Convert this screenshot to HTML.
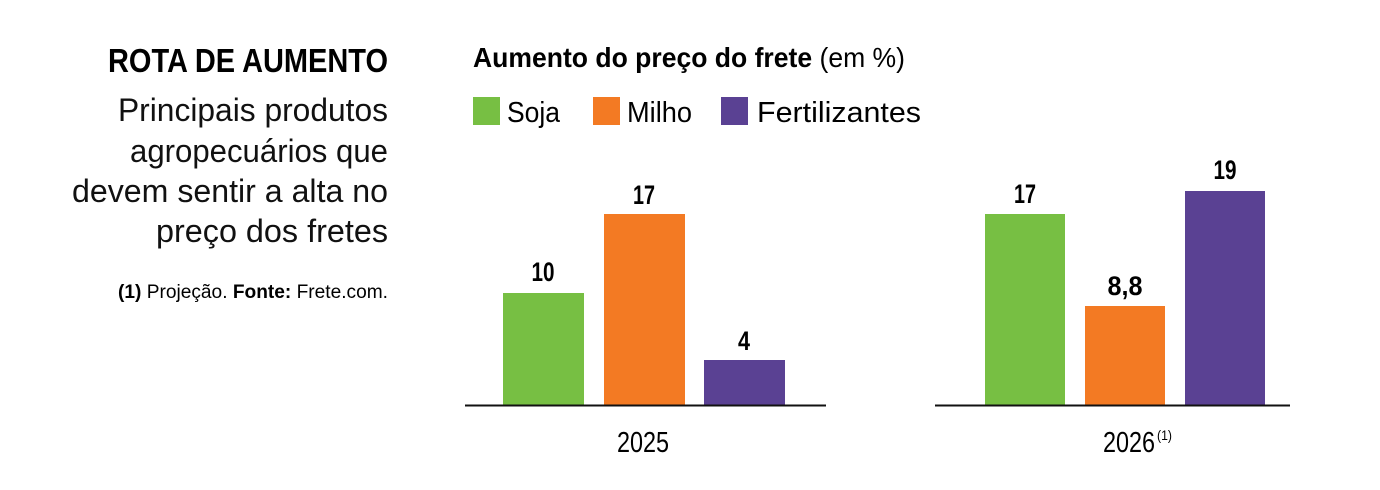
<!DOCTYPE html>
<html><head><meta charset="utf-8"><style>
html,body{margin:0;padding:0;background:#fff;}
svg{display:block;font-family:"Liberation Sans",sans-serif;}
</style></head><body>
<svg width="1380" height="490" viewBox="0 0 1380 490" xmlns="http://www.w3.org/2000/svg">
<rect width="1380" height="490" fill="#fff"/>
<text x="388" y="72" text-anchor="end" font-size="33" font-weight="bold" textLength="280" lengthAdjust="spacingAndGlyphs">ROTA DE AUMENTO</text>
<g font-size="32" fill="#111" text-anchor="end">
<text x="388" y="121" textLength="270" lengthAdjust="spacingAndGlyphs">Principais produtos</text>
<text x="388" y="162" textLength="258" lengthAdjust="spacingAndGlyphs">agropecuários que</text>
<text x="388" y="202" textLength="316" lengthAdjust="spacingAndGlyphs">devem sentir a alta no</text>
<text x="388" y="242" textLength="232" lengthAdjust="spacingAndGlyphs">preço dos fretes</text>
</g>
<text x="388" y="298" text-anchor="end" font-size="19" textLength="270" lengthAdjust="spacingAndGlyphs"><tspan font-weight="bold">(1)</tspan> Projeção. <tspan font-weight="bold">Fonte:</tspan> Frete.com.</text>
<text x="473" y="67" font-size="28" textLength="432" lengthAdjust="spacingAndGlyphs"><tspan font-weight="bold">Aumento do preço do frete</tspan> (em %)</text>
<rect x="473" y="97" width="27" height="28" fill="#77bf43"/>
<text x="507" y="122" font-size="29" textLength="53" lengthAdjust="spacingAndGlyphs">Soja</text>
<rect x="593" y="97" width="27" height="28" fill="#f37a23"/>
<text x="627" y="122" font-size="29" textLength="65" lengthAdjust="spacingAndGlyphs">Milho</text>
<rect x="721" y="97" width="27" height="28" fill="#5a4193"/>
<text x="757" y="122" font-size="29" textLength="164" lengthAdjust="spacingAndGlyphs">Fertilizantes</text>
<rect x="503" y="293" width="81" height="112" fill="#77bf43"/>
<rect x="604" y="214" width="81" height="191" fill="#f37a23"/>
<rect x="704" y="360" width="81" height="45" fill="#5a4193"/>
<rect x="985" y="214" width="80" height="191" fill="#77bf43"/>
<rect x="1085" y="306" width="80" height="99" fill="#f37a23"/>
<rect x="1185" y="191" width="80" height="214" fill="#5a4193"/>
<line x1="465" y1="405.5" x2="826" y2="405.5" stroke="#111" stroke-width="2"/>
<line x1="935" y1="405.5" x2="1290" y2="405.5" stroke="#111" stroke-width="2"/>
<g font-size="27" font-weight="bold" text-anchor="middle">
<text x="543" y="281" textLength="23" lengthAdjust="spacingAndGlyphs">10</text>
<text x="644" y="204" textLength="22" lengthAdjust="spacingAndGlyphs">17</text>
<text x="744" y="350" textLength="12" lengthAdjust="spacingAndGlyphs">4</text>
<text x="1025" y="203" textLength="22" lengthAdjust="spacingAndGlyphs">17</text>
<text x="1125" y="295" textLength="35" lengthAdjust="spacingAndGlyphs">8,8</text>
<text x="1225" y="179" textLength="23" lengthAdjust="spacingAndGlyphs">19</text>
</g>
<g font-size="29" text-anchor="middle">
<text x="643" y="452" textLength="52" lengthAdjust="spacingAndGlyphs">2025</text>
</g>
<text x="1103" y="452" font-size="29" textLength="52" lengthAdjust="spacingAndGlyphs">2026</text>
<text x="1157" y="440" font-size="14" textLength="15" lengthAdjust="spacingAndGlyphs">(1)</text>
</svg>
</body></html>
